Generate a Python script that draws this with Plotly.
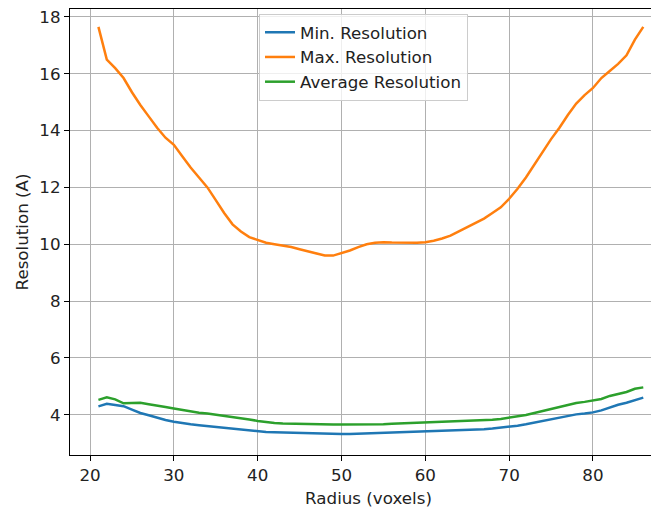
import plotly.graph_objects as go

radius = list(range(21, 87))

max_res = [17.65, 16.5, 16.2, 15.85, 15.35, 14.9, 14.5, 14.1, 13.75, 13.5,
           13.1, 12.7, 12.35, 12.0, 11.55, 11.1, 10.7, 10.45, 10.25, 10.15,
           10.05, 10.0, 9.95, 9.9, 9.82, 9.75, 9.67, 9.6, 9.6, 9.68,
           9.78, 9.9, 10.0, 10.05, 10.07, 10.06, 10.05, 10.05, 10.05, 10.07,
           10.12, 10.2, 10.3, 10.45, 10.6, 10.75, 10.9, 11.1, 11.3, 11.6,
           11.95, 12.35, 12.8, 13.25, 13.7, 14.1, 14.55, 14.95, 15.25, 15.5,
           15.85, 16.1, 16.35, 16.65, 17.2, 17.65]

min_res = [4.29, 4.38, 4.34, 4.30, 4.18, 4.06, 3.98, 3.89, 3.81, 3.75,
           3.70, 3.66, 3.63, 3.60, 3.57, 3.53, 3.49, 3.46, 3.43, 3.41,
           3.39, 3.38, 3.37, 3.36, 3.35, 3.34, 3.33, 3.33, 3.32, 3.32,
           3.32, 3.33, 3.34, 3.35, 3.36, 3.37, 3.38, 3.39, 3.39, 3.40,
           3.41, 3.42, 3.43, 3.44, 3.46, 3.47, 3.49, 3.51, 3.54, 3.57,
           3.61, 3.66, 3.72, 3.78, 3.85, 3.91, 3.96, 4.01, 4.04, 4.08,
           4.15, 4.25, 4.35, 4.42, 4.50, 4.60]

avg_res = [4.52, 4.61, 4.54, 4.40, 4.41, 4.42, 4.37, 4.31, 4.27, 4.22,
           4.17, 4.11, 4.07, 4.04, 4.00, 3.97, 3.93, 3.88, 3.83, 3.78,
           3.74, 3.71, 3.69, 3.68, 3.68, 3.68, 3.67, 3.66, 3.65, 3.65,
           3.65, 3.65, 3.65, 3.65, 3.66, 3.68, 3.69, 3.70, 3.71, 3.72,
           3.73, 3.74, 3.75, 3.76, 3.77, 3.78, 3.80, 3.82, 3.85, 3.89,
           3.94, 3.99, 4.06, 4.13, 4.20, 4.27, 4.34, 4.41, 4.45, 4.49,
           4.55, 4.66, 4.74, 4.80, 4.91, 4.96]

fig = go.Figure()
fig.add_trace(go.Scatter(x=radius, y=min_res, mode="lines", name="Min. Resolution",
                         line=dict(color="#1f77b4", width=2.5)))
fig.add_trace(go.Scatter(x=radius, y=max_res, mode="lines", name="Max. Resolution",
                         line=dict(color="#ff7f0e", width=2.5)))
fig.add_trace(go.Scatter(x=radius, y=avg_res, mode="lines", name="Average Resolution",
                         line=dict(color="#2ca02c", width=2.5)))

font = dict(family="DejaVu Sans", size=16.7, color="#222")
fig.update_layout(
    width=659, height=508,
    margin=dict(l=62, r=0, t=1, b=61),
    paper_bgcolor="white", plot_bgcolor="white",
    font=font,
    showlegend=True,
    legend=dict(x=0.3166, y=0.989, xanchor="left", yanchor="top",
                bgcolor="rgba(255,255,255,0.8)", bordercolor="#cccccc", borderwidth=1,
                font=font, tracegroupgap=0),
    xaxis=dict(range=[17.61, 88.83], tickvals=[20, 30, 40, 50, 60, 70, 80],
               showgrid=True, gridcolor="#b0b0b0", gridwidth=1,
               showline=True, linecolor="black", linewidth=1.2, mirror=True,
               ticks="outside", ticklen=5, tickcolor="black", zeroline=False,
               title=dict(text="Radius (voxels)", standoff=8, font=font)),
    yaxis=dict(range=[2.58, 18.28], tickvals=[4, 6, 8, 10, 12, 14, 16, 18],
               showgrid=True, gridcolor="#b0b0b0", gridwidth=1,
               showline=True, linecolor="black", linewidth=1.2,
               ticks="outside", ticklen=5, tickcolor="black", zeroline=False,
               ticklabeloverflow="allow",
               title=dict(text="Resolution (A)", standoff=6, font=font)),
)

fig.write_html("out.html")
